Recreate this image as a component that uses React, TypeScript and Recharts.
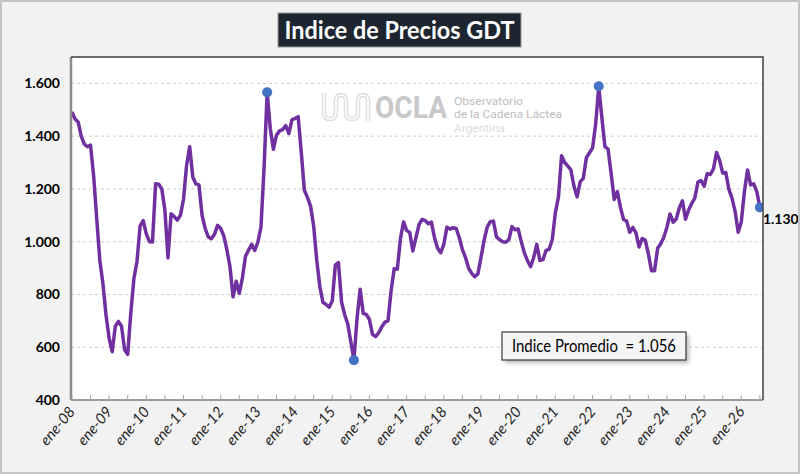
import { LineChart, Line, XAxis, YAxis, CartesianGrid, LabelList } from 'recharts';

// GDT price index, monthly, from Jan 2008
const startYear = 2008;
const yearTicks = [
  'ene-08', 'ene-09', 'ene-10', 'ene-11', 'ene-12', 'ene-13', 'ene-14', 'ene-15', 'ene-16', 'ene-17',
  'ene-18', 'ene-19', 'ene-20', 'ene-21', 'ene-22', 'ene-23', 'ene-24', 'ene-25', 'ene-26',
];
const yTicks = [400, 600, 800, 1000, 1200, 1400, 1600];

const gdtIndex = [
  1492, 1465, 1454, 1400, 1370, 1360, 1366, 1250, 1087, 930, 841, 722,
  634, 583, 680, 698, 680, 590, 573, 730, 860, 925, 1060, 1080,
  1030, 1000, 999, 1220, 1218, 1200, 1120, 939, 1106, 1095, 1082, 1100,
  1160, 1290, 1360, 1245, 1219, 1215, 1100, 1050, 1018, 1011, 1028, 1062,
  1050, 1022, 970, 905, 791, 850, 804, 862, 945, 968, 990, 967,
  998, 1055, 1280, 1566, 1430, 1350, 1404, 1420, 1425, 1440, 1410, 1462,
  1467, 1474, 1340, 1195, 1168, 1135, 1060, 930, 830, 770, 762, 752,
  775, 911, 921, 772, 724, 688, 621, 551, 709, 820, 728, 724,
  705, 649, 640, 655, 678, 695, 700, 815, 898, 896, 1010, 1075,
  1043, 1035, 965, 1015, 1065, 1085, 1080, 1068, 1074, 1015, 975, 958,
  990, 1055, 1048, 1053, 1050, 1015, 970, 940, 900, 880, 867, 878,
  940, 1005, 1055, 1076, 1078, 1018, 1008, 1000, 998, 1008, 1057, 1045,
  1048, 1000, 958, 928, 905, 940, 990, 929, 932, 967, 971, 1008,
  1110, 1170, 1326, 1300, 1287, 1272, 1210, 1170, 1227, 1240, 1318, 1337,
  1355, 1445, 1589, 1470, 1360, 1351, 1258, 1160, 1190, 1130, 1084, 1078,
  1036, 1054, 1033, 980, 1012, 1006, 955, 890, 890, 975, 992, 1017,
  1055, 1105, 1074, 1086, 1128, 1155, 1085, 1120, 1145, 1165, 1226, 1232,
  1210, 1258, 1255, 1275, 1338, 1308, 1260, 1262, 1198, 1165, 1115, 1036,
  1075, 1190, 1272, 1215, 1219, 1190, 1130,
];

// months that get a blue marker (2013 peak, 2015 low, 2022 peak, last value)
const markedPoints = [63, 91, 170, 222];
const averageIndex = 1056;

const data = gdtIndex.map((v, i) => ({
  i,
  month: `${startYear + Math.floor(i / 12)}-${String((i % 12) + 1).padStart(2, '0')}`,
  v,
}));

const lastIdx = gdtIndex.length - 1;
const xTicks = yearTicks.flatMap((_, k) => [k * 12, k * 12 + 6]).filter((t) => t <= lastIdx);

const fmt = (n: number) => {
  const r = Math.round(n);
  return r >= 1000 ? `${Math.floor(r / 1000)}.${String(r % 1000).padStart(3, '0')}` : String(r);
};

const calibri = 'Lato, "Open Sans", sans-serif';
const narrow = '"Liberation Sans Narrow", "Roboto", sans-serif';

function MonthTick({ x, y, payload }: any) {
  const idx = payload.value;
  const label = idx % 12 === 0 ? yearTicks[idx / 12] : '';
  const ax = x + 4;
  const ay = y + 12;
  return (
    <g>
      <line x1={x} x2={x} y1={y - 5} y2={y} stroke="#a6a6a6" strokeWidth={1} />
      {label && (
        <text
          x={ax}
          y={ay}
          textAnchor="end"
          transform={`rotate(-50, ${ax}, ${ay})`}
          fontFamily={calibri}
          fontStyle="italic"
          fontSize={15}
          fill="#262626"
        >
          {label}
        </text>
      )}
    </g>
  );
}

function MarkerDot(props: any) {
  const { cx, cy, index } = props;
  if (!markedPoints.includes(index)) return <g key={`d${index}`} />;
  return <circle key={`d${index}`} cx={cx} cy={cy} r={5} fill="#4472c4" />;
}

function LastLabel(props: any) {
  const { x, y, value, index } = props;
  if (index !== lastIdx) return null;
  return (
    <text x={x + 3} y={y + 17} fontFamily={calibri} fontWeight={700} fontSize={14} fill="#000">
      {fmt(value)}
    </text>
  );
}

export default function App() {
  return (
    <div style={{ position: 'absolute', left: 0, top: 0, width: 800, height: 474, background: '#f2f2f2', overflow: 'hidden' }}>
      <div style={{ position: 'absolute', left: 0, top: 0 }}>
        <LineChart width={800} height={474} data={data} margin={{ top: 57, right: 37, bottom: 14, left: 11 }}>
          <CartesianGrid vertical={false} strokeDasharray="3 3" stroke="#cdcdcd" fill="#ffffff" />
          <XAxis
            dataKey="i"
            type="number"
            domain={[-0.3, 223]}
            ticks={xTicks}
            interval={0}
            tick={<MonthTick />}
            tickLine={false}
            tickSize={0}
            tickMargin={0}
            height={60}
            axisLine={{ stroke: '#7f7f7f', strokeWidth: 1.5 }}
            allowDataOverflow
          />
          <YAxis
            domain={[400, 1700]}
            ticks={yTicks}
            interval={0}
            tickFormatter={fmt}
            width={60}
            tickLine={false}
            tickSize={0}
            tickMargin={11}
            axisLine={{ stroke: '#8c8c8c', strokeWidth: 2.5 }}
            tick={{ fill: '#000', fontSize: 14, fontWeight: 700, fontFamily: calibri }}
            allowDataOverflow
          />
          <Line
            dataKey="v"
            type="linear"
            stroke="#7030a0"
            strokeWidth={3.5}
            strokeLinejoin="round"
            dot={MarkerDot}
            activeDot={false}
            isAnimationActive={false}
          >
            <LabelList dataKey="v" content={LastLabel} />
          </Line>
        </LineChart>
      </div>

      <svg width={800} height={474} style={{ position: 'absolute', left: 0, top: 0, pointerEvents: 'none' }}>
        <defs>
          <filter id="shadow" x="-20%" y="-50%" width="140%" height="200%">
            <feGaussianBlur stdDeviation="2" />
          </filter>
        </defs>
        {/* outer frame */}
        <rect x={1} y={1} width={798} height={472} fill="none" stroke="#c4c4c4" strokeWidth={2} />
        {/* plot frame (top + right) */}
        <polyline points="71,57 763,57 763,400" fill="none" stroke="#404040" strokeWidth={1.5} />

        {/* title */}
        <rect x={278} y={13} width={243} height={34} fill="#1d2630" stroke="#9a9a9a" strokeWidth={1} />
        <text
          x={399.5}
          y={38.5}
          textAnchor="middle"
          fontFamily={calibri}
          fontWeight={700}
          fontSize={25}
          fill="#ffffff"
          textLength={230}
          lengthAdjust="spacingAndGlyphs"
        >
          Indice de Precios GDT
        </text>

        {/* OCLA watermark */}
        <g>
          <path
            d="M324 93 V112 Q324 119 330 119 Q336 119 336 112 V101 Q336 95 341 95 Q346 95 346 101 V112 Q346 119 352 119 Q358 119 358 112 V101 Q358 95 363 95 Q368 95 368 101 V121"
            fill="none"
            stroke="#dedede"
            strokeWidth={4.5}
          />
          <path
            d="M324 93 V112 Q324 119 330 119 Q336 119 336 112 V101 Q336 95 341 95 Q346 95 346 101 V112 Q346 119 352 119 Q358 119 358 112 V101 Q358 95 363 95 Q368 95 368 101 V121"
            fill="none"
            stroke="#ffffff"
            strokeWidth={1.6}
          />
          <text x={375} y={117.5} fontFamily={narrow} fontWeight={700} fontSize={31} fill="#c8c8c8" textLength={72} lengthAdjust="spacingAndGlyphs">
            OCLA
          </text>
          <text x={454} y={104.5} fontFamily={narrow} fontSize={11.5} fill="#bdbdbd" textLength={69} lengthAdjust="spacingAndGlyphs">
            Observatorio
          </text>
          <text x={454} y={118} fontFamily={narrow} fontSize={11.5} fill="#bdbdbd" textLength={108} lengthAdjust="spacingAndGlyphs">
            de la Cadena Láctea
          </text>
          <text x={454} y={131.5} fontFamily={narrow} fontSize={11.5} fill="#dcdcdc" textLength={51} lengthAdjust="spacingAndGlyphs">
            Argentina
          </text>
        </g>

        {/* average annotation */}
        <rect x={505} y={335} width={184} height={28} fill="#8a8a8a" opacity={0.6} filter="url(#shadow)" />
        <rect x={502} y={332} width={184} height={28} fill="#f5f5f5" stroke="#3a3a3a" strokeWidth={1.2} />
        <text
          x={512}
          y={351.5}
          fontFamily={calibri}
          fontSize={17}
          fill="#000"
          textLength={164}
          lengthAdjust="spacingAndGlyphs"
          style={{ whiteSpace: 'pre' }}
        >
          {`Indice Promedio  = ${fmt(averageIndex)}`}
        </text>
      </svg>
    </div>
  );
}
